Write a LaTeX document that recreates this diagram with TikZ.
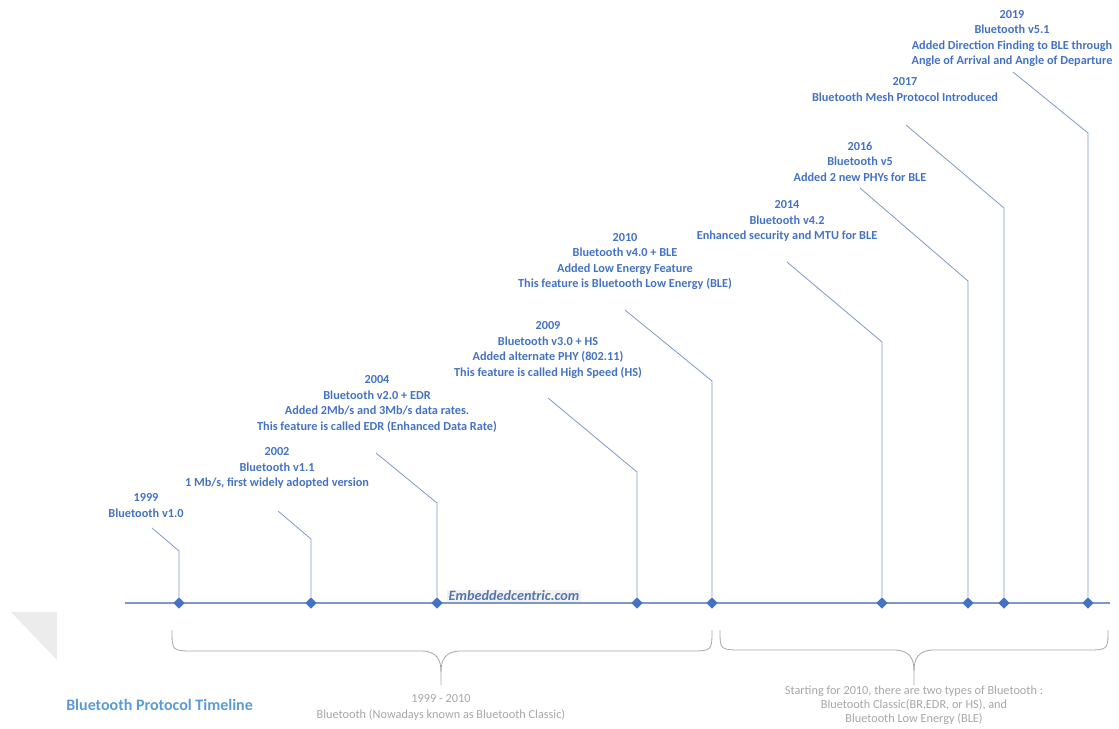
\documentclass[tikz,border=0pt]{standalone}
\usepackage{fontspec}
\setmainfont{Carlito}
\usetikzlibrary{shapes.geometric}

\definecolor{tlblue}{HTML}{4472C4}
\definecolor{tlline}{HTML}{7F98C9}
\definecolor{tltitle}{HTML}{5B9BD5}
\definecolor{tlgray}{HTML}{A6A6A6}

\tikzset{
    event/.style={text=tlblue, font=\bfseries\fontsize{9.2}{11.6}\selectfont, align=center, inner sep=0pt, anchor=north},
    gem/.style={diamond, fill=tlblue, inner sep=0pt, minimum size=8.5pt},
    leader/.style={tlline, line width=0.6pt},
    brace/.style={tlgray, line width=0.6pt},
    note/.style={text=tlgray, font=\fontsize{9.2}{12}\selectfont, align=center, inner sep=0pt, anchor=north},
}

\begin{document}
\begin{tikzpicture}[x=0.75pt,y=-0.75pt]
        \useasboundingbox (0,0) rectangle (1119,728);
        % \draw[very thin,color=gray] (0,0) grid[step=100] (1119,728);
        \fill[gray!15] (11,612) -- (57,612) -- (57,660) -- cycle;

        \draw[tlline,line width=1pt] (125,603) -- (1110,603);

        % diamonds on the line
        \node[gem] (d1999) at (179,603) {};
        \node[gem] (d2002) at (311,603) {};
        \node[gem] (d2004) at (437,603) {};
        \node[gem] (d2009) at (637,603) {};
        \node[gem] (d2010) at (712,603) {};
        \node[gem] (d2014) at (882,603) {};
        \node[gem] (d2016) at (968,603) {};
        \node[gem] (d2017) at (1004,603) {};
        \node[gem] (d2019) at (1088,603) {};

        % texts
        \node[event] (t1999) at (146,493.5) {1999\\Bluetooth v1.0};
        \node[event] (t2002) at (277,447.5) {2002\\Bluetooth v1.1\\1 Mb/s, first widely adopted version};
        \node[event] (t2004) at (377,375.5) {2004\\Bluetooth v2.0 + EDR\\Added 2Mb/s and 3Mb/s data rates.\\This feature is called EDR (Enhanced Data Rate)};
        \node[event] (t2009) at (548,321.5) {2009\\Bluetooth v3.0 + HS\\Added alternate PHY (802.11)\\This feature is called High Speed (HS)};
        \node[event] (t2010) at (625,233) {2010\\Bluetooth v4.0 + BLE\\Added Low Energy Feature\\This feature is Bluetooth Low Energy (BLE)};
        \node[event] (t2014) at (787,200.5) {2014\\Bluetooth v4.2\\Enhanced security and MTU for BLE};
        \node[event] (t2016) at (860,141.5) {2016\\Bluetooth v5\\Added 2 new PHYs for BLE};
        \node[event] (t2017) at (905,77.5) {2017\\Bluetooth Mesh Protocol Introduced};
        \node[event] (t2019) at (1012,10) {2019\\Bluetooth v5.1\\Added Direction Finding to BLE through\\Angle of Arrival and Angle of Departure};

        % leader lines
        \coordinate (b1999) at (179,551); \coordinate (e1999) at (152,528);
        \coordinate (b2002) at (311,539); \coordinate (e2002) at (278,511);
        \coordinate (b2004) at (437,503); \coordinate (e2004) at (376,453);
        \coordinate (b2009) at (637,472); \coordinate (e2009) at (548,398);
        \coordinate (b2010) at (712,381); \coordinate (e2010) at (625,310);
        \coordinate (b2014) at (882,342); \coordinate (e2014) at (787,262);
        \coordinate (b2016) at (968,281); \coordinate (e2016) at (860,188);
        \coordinate (b2017) at (1004,208); \coordinate (e2017) at (906,125);
        \coordinate (b2019) at (1088,133); \coordinate (e2019) at (1013,72);
        \draw[leader] (d1999) -- (b1999) -- (e1999);
        \draw[leader] (d2002) -- (b2002) -- (e2002);
        \draw[leader] (d2004) -- (b2004) -- (e2004);
        \draw[leader] (d2009) -- (b2009) -- (e2009);
        \draw[leader] (d2010) -- (b2010) -- (e2010);
        \draw[leader] (d2014) -- (b2014) -- (e2014);
        \draw[leader] (d2016) -- (b2016) -- (e2016);
        \draw[leader] (d2017) -- (b2017) -- (e2017);
        \draw[leader] (d2019) -- (b2019) -- (e2019);

        \node[fill=gray!10, inner sep=1pt, text=tlblue!70!gray, font=\bfseries\itshape\fontsize{10.7}{12}\selectfont] (mark) at (514,596) {Embeddedcentric.com};

        % braces
        \draw[brace] (172,630) .. controls (172,651) .. (195,651) -- (421,651) .. controls (437,651) and (441,660) .. (441,672) -- (441,685);
        \draw[brace] (712,630) .. controls (712,651) .. (689,651) -- (461,651) .. controls (445,651) and (441,660) .. (441,672);
        \draw[brace] (720,630) .. controls (720,650) .. (743,650) -- (894,650) .. controls (910,650) and (914,659) .. (914,671) -- (914,685);
        \draw[brace] (1108,630) .. controls (1108,650) .. (1085,650) -- (934,650) .. controls (918,650) and (914,659) .. (914,671);

        \node[note] (classic) at (441,694.5) {1999 - 2010\\Bluetooth (Nowadays known as Bluetooth Classic)};
        \node[note, font=\fontsize{9.2}{10.5}\selectfont] (split) at (914,685.5) {Starting for 2010, there are two types of Bluetooth :\\Bluetooth Classic(BR,EDR, or HS), and\\Bluetooth Low Energy (BLE)};

        \node[text=tltitle, font=\bfseries\fontsize{12}{14}\selectfont, anchor=west, inner sep=0pt] (title) at (66,705) {Bluetooth Protocol Timeline};
    \end{tikzpicture}
\end{document}
